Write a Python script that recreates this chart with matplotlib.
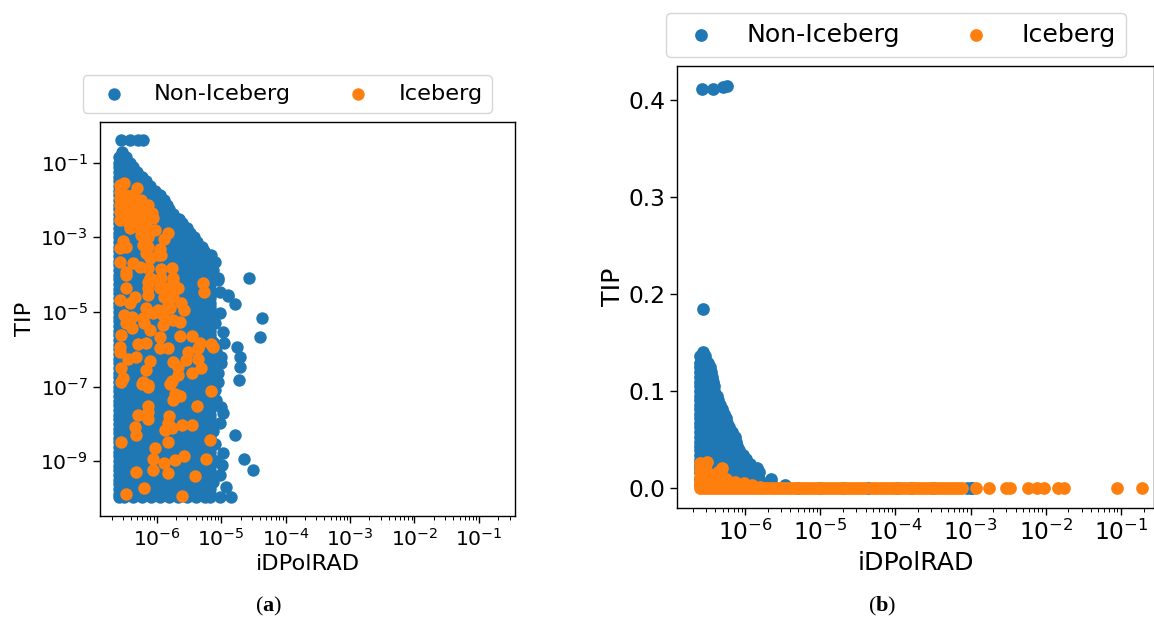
import matplotlib
matplotlib.use("Agg")
import matplotlib.pyplot as plt
import numpy as np
from matplotlib.ticker import LogLocator, NullFormatter, NullLocator

plt.rcParams['mathtext.fontset'] = 'custom'
plt.rcParams['mathtext.bf'] = 'Liberation Serif:bold'
plt.rcParams['mathtext.rm'] = 'Liberation Serif'

labels = ['Non-Iceberg', 'Iceberg']
x_label = 'iDPolRAD'
y_label = 'TIP'
x_tick_exps = [-6, -5, -4, -3, -2, -1]
y_tick_exps_a = [-1, -3, -5, -7, -9]
y_ticks_b = [0.0, 0.1, 0.2, 0.3, 0.4]

# Panel (a): log10 iDPolRAD per row of log10 TIP, read from the dense blue mass
wa = [-6.58, -6.44, -6.30, -6.16, -6.02, -5.88, -5.74, -5.60, -5.46, -5.32, -5.18]
wb = [-6.58, -6.51, -6.37, -6.23, -6.09, -5.95, -5.81, -5.67, -5.53, -5.39, -5.25, -5.17]
blue_a_rows = [
    (-0.39, [-6.56, -6.42, -6.29, -6.22]),
    (-0.72, [-6.54]),
    (-0.85, [-6.58, -6.48]),
    (-1.00, [-6.58, -6.44, -6.42]),
    (-1.125, [-6.58, -6.51, -6.37]),
    (-1.25, [-6.58, -6.51, -6.37, -6.30]),
    (-1.375, [-6.58, -6.44, -6.30, -6.23]),
    (-1.50, [-6.58, -6.44, -6.30, -6.16]),
    (-1.625, [-6.58, -6.51, -6.37, -6.23, -6.10]),
    (-1.75, [-6.58, -6.51, -6.37, -6.23, -6.09, -6.03]),
    (-1.875, [-6.58, -6.44, -6.30, -6.16, -6.02, -5.95]),
    (-2.00, [-6.58, -6.44, -6.30, -6.16, -6.02, -5.88]),
    (-2.125, [-6.58, -6.51, -6.37, -6.23, -6.09, -5.95, -5.84]),
    (-2.25, [-6.58, -6.51, -6.37, -6.23, -6.09, -5.95, -5.81]),
    (-2.375, [-6.58, -6.44, -6.30, -6.16, -6.02, -5.88, -5.74]),
    (-2.50, [-6.58, -6.44, -6.30, -6.16, -6.02, -5.88, -5.74, -5.66]),
    (-2.625, [-6.58, -6.51, -6.37, -6.23, -6.09, -5.95, -5.81, -5.67, -5.60]),
    (-2.75, [-6.58, -6.51, -6.37, -6.23, -6.09, -5.95, -5.81, -5.67, -5.53]),
    (-2.875, [-6.58, -6.44, -6.30, -6.16, -6.02, -5.88, -5.74, -5.60, -5.48]),
    (-3.00, [-6.58, -6.44, -6.30, -6.16, -6.02, -5.88, -5.74, -5.60, -5.46, -5.42]),
    (-3.125, [-6.58, -6.51, -6.37, -6.23, -6.09, -5.95, -5.81, -5.67, -5.53, -5.37]),
    (-3.25, [-6.58, -6.51, -6.37, -6.23, -6.09, -5.95, -5.81, -5.67, -5.53, -5.39, -5.30]),
    (-3.375, [-6.58, -6.44, -6.30, -6.16, -6.02, -5.88, -5.74, -5.60, -5.46, -5.27]),
    (-3.50, [-6.58, -6.44, -6.30, -6.16, -6.02, -5.88, -5.74, -5.60, -5.46, -5.32, -5.22]),
    (-3.625, [-6.58, -6.51, -6.37, -6.23, -6.09, -5.95, -5.81, -5.67, -5.53, -5.39, -5.25, -5.19]),
    (-3.75, [-6.58, -6.51, -6.37, -6.23, -6.09, -5.95, -5.81, -5.67, -5.53, -5.39, -5.25, -5.15]),
    (-3.875, [-6.58, -6.44, -6.30, -6.16, -6.02, -5.88, -5.74, -5.60, -5.46, -5.32, -5.18, -5.13]),
    (-4.00, wa), (-4.125, wb), (-4.25, wb), (-4.375, wa), (-4.50, wa), (-4.625, wb), (-4.75, wb),
    (-4.875, wa), (-5.00, wa), (-5.125, wb), (-5.25, wb), (-5.375, wa), (-5.50, wa), (-5.625, wb),
    (-5.75, wb), (-5.875, wa), (-6.00, wa), (-6.125, wb), (-6.25, wb), (-6.375, wa), (-6.50, wa),
    (-6.625, wb), (-6.75, wb), (-6.875, wa), (-7.00, wa), (-7.125, wb), (-7.25, wb), (-7.375, wa),
    (-7.50, wa), (-7.625, wb), (-7.75, wb), (-7.875, wa), (-8.00, wa), (-8.125, wb), (-8.25, wb),
    (-8.375, wa), (-8.50, wa), (-8.625, wb), (-8.75, wb), (-8.875, wa), (-9.00, wa), (-9.125, wb),
    (-9.25, wb), (-9.375, wa), (-9.50, wa), (-9.625, wb), (-9.75, wb), (-9.875, wa), (-9.95, wb),
]
blue_a_edge_x = [-5.15, -5.10, -5.05, -5.05, -5.02, -4.89, -5.02, -4.97, -4.95, -5.00, -5.00, -5.05,
                 -5.00, -4.97, -5.02, -5.05, -4.97, -4.99, -5.02, -4.92, -5.02, -4.85,
                 -4.57, -4.37, -4.40, -4.76, -4.71, -4.71, -4.73, -4.78, -4.65, -4.50, -4.90, -4.79,
                 -5.10, -5.12, -5.08, -5.12, -5.10, -5.08, -5.12, -5.10, -5.08, -5.12]
blue_a_edge_y = [-3.47, -3.65, -4.10, -4.14, -4.46, -4.55, -5.04, -5.53, -5.84, -6.20, -6.38, -6.65,
                 -7.54, -7.72, -7.99, -6.87, -8.79, -9.10, -9.37, -9.70, -9.95, -9.95,
                 -4.08, -5.16, -5.67, -5.94, -6.21, -6.48, -6.83, -8.30, -8.94, -9.24, -4.57, -4.79,
                 -5.30, -5.80, -6.05, -6.60, -7.10, -7.35, -8.20, -8.55, -9.00, -9.55]

orange_a_x = [-6.57, -6.50, -6.30, -6.57, -6.57, -6.47, -6.37, -6.57, -6.47, -6.34, -6.24, -6.13,
              -6.57, -6.44, -6.32, -6.19, -6.08, -6.57, -6.44, -6.32, -6.19, -6.06, -6.42, -6.29,
              -6.16, -6.03, -5.82, -5.88, -6.24, -6.13, -6.52, -6.57, -6.47, -6.21, -6.13, -5.95,
              -5.98, -5.93, -6.16, -6.11, -6.57, -6.37, -6.47, -6.26, -6.13, -5.93, -5.77, -6.11,
              -5.75, -5.93,
              -6.47, -6.13, -6.00, -5.75, -6.13, -5.95, -5.82, -5.67, -5.28, -5.26, -6.47, -6.57,
              -6.34, -6.42, -6.13, -5.88, -5.75, -5.82, -5.62, -5.57, -6.16, -5.98, -5.80, -6.50,
              -6.39, -6.21, -6.06, -5.90, -5.75, -5.64, -6.47, -6.39, -6.19, -6.11, -5.90, -6.55,
              -5.95, -5.64, -5.45, -6.57, -6.57, -6.29, -6.16, -5.95, -5.82, -5.33, -5.36, -5.16,
              -5.13, -5.51, -5.54, -5.36, -6.44, -6.32, -6.55, -6.11, -6.16, -5.75, -5.67, -5.31,
              -5.46, -5.67, -6.52, -6.21, -5.77, -6.13,
              -6.56, -6.23, -6.14, -5.80, -5.75, -5.72, -5.64, -5.15, -5.37, -6.14, -6.29, -6.13,
              -6.13, -5.81, -5.83, -6.34, -5.87, -5.77, -5.61, -5.46, -6.32, -6.55, -5.82, -5.17,
              -6.03, -6.06, -5.57, -5.72, -5.23, -5.89, -6.06, -6.32, -5.82, -5.41, -6.20, -6.48,
              -5.61]
orange_a_y = [-1.60, -1.55, -1.69, -1.78, -1.96, -1.87, -1.87, -2.13, -2.09, -2.05, -2.00, -2.13,
              -2.31, -2.31, -2.27, -2.27, -2.36, -2.54, -2.58, -2.49, -2.49, -2.49, -2.76, -2.72,
              -2.72, -2.80, -2.88, -3.05, -2.94, -2.98, -3.10, -3.30, -3.25, -3.21, -3.25, -3.32,
              -3.47, -3.47, -3.43, -3.56, -3.65, -3.70, -3.92, -3.79, -3.83, -3.85, -3.81, -4.10,
              -4.10, -4.10,
              -4.01, -4.19, -4.14, -4.19, -4.37, -4.37, -4.37, -4.37, -4.23, -4.46, -4.37, -4.68,
              -4.59, -4.77, -4.55, -4.59, -4.59, -4.81, -4.77, -4.95, -4.90, -4.95, -4.90, -5.08,
              -5.13, -5.17, -5.04, -5.08, -5.22, -5.26, -5.31, -5.44, -5.31, -5.49, -5.35, -5.62,
              -5.66, -5.65, -5.64, -5.93, -6.07, -5.87, -5.82, -5.98, -5.96, -5.84, -5.96, -5.87,
              -5.93, -6.07, -6.29, -6.25, -6.25, -6.22, -6.51, -6.32, -6.56, -6.33, -6.47, -6.51,
              -6.63, -6.69, -6.78, -6.89, -6.85, -6.96,
              -6.87, -6.92, -7.00, -6.93, -7.36, -7.20, -7.25, -7.11, -7.52, -7.52, -7.76, -7.68,
              -7.88, -7.79, -7.99, -8.08, -8.17, -8.10, -8.03, -8.03, -8.30, -8.50, -8.48, -8.43,
              -8.64, -8.93, -8.85, -8.97, -8.95, -9.06, -9.24, -9.30, -9.33, -9.40, -9.71, -9.89,
              -9.94]

# Panel (b)
blue_b_rows = [
    (0.4117, [-6.57, -6.43]), (0.413, [-6.30]), (0.4147, [-6.24]), (0.1845, [-6.56]),
    (0.1408, [-6.56]), (0.136, [-6.60, -6.54]), (0.129, [-6.60, -6.49]),
    (0.125, [-6.60, -6.47]),
    (0.120, [-6.60, -6.52, -6.45]), (0.115, [-6.60, -6.52, -6.44]),
    (0.110, [-6.60, -6.48, -6.43]), (0.105, [-6.60, -6.50, -6.42]),
    (0.100, [-6.60, -6.52, -6.41]), (0.095, [-6.60, -6.52, -6.42, -6.38]),
    (0.091, [-6.60, -6.48, -6.36]), (0.086, [-6.60, -6.48, -6.36, -6.33]),
    (0.082, [-6.60, -6.52, -6.42, -6.31]), (0.077, [-6.60, -6.52, -6.42, -6.30, -6.28]),
    (0.072, [-6.60, -6.48, -6.36, -6.26]), (0.067, [-6.60, -6.48, -6.36, -6.24]),
    (0.063, [-6.60, -6.52, -6.42, -6.30, -6.21]), (0.058, [-6.60, -6.52, -6.42, -6.30, -6.18]),
    (0.053, [-6.60, -6.48, -6.36, -6.24, -6.14]), (0.048, [-6.60, -6.48, -6.36, -6.24, -6.12]),
    (0.044, [-6.60, -6.54, -6.42, -6.30, -6.18, -6.11]), (0.039, [-6.60, -6.54, -6.42, -6.30, -6.18, -6.08]),
    (0.034, [-6.60, -6.48, -6.36, -6.24, -6.12, -6.03]),
    (0.030, [-5.99]), (0.029, [-6.60, -6.48, -6.36, -6.24, -6.12, -6.00]),
    (0.025, [-6.60, -6.54, -6.42, -6.30, -6.18, -6.06, -5.94]),
    (0.021, [-6.60, -6.54, -6.42, -6.30, -6.18, -6.06, -5.94, -5.84]),
    (0.017, [-6.60, -6.48, -6.36, -6.24, -6.12, -6.00, -5.88, -5.81]),
    (0.0095, [-6.60, -6.54, -6.42, -6.30, -6.18, -6.06, -5.94, -5.82, -5.65]),
    (0.003, [-6.60, -6.48, -6.36, -6.24, -6.12, -6.00, -5.88, -5.76, -5.64, -5.47]),
    (0.0, [-5.30, -5.00, -4.70, -4.36, -3.98, -3.79, -3.50, -3.05, -3.00, -2.98]),
]
orange_b_band_x = [-6.60, -6.56, -6.52, -6.48, -6.44, -6.40, -6.36, -6.32, -6.28, -6.24, -6.20, -6.16,
                   -6.12, -6.08, -6.04, -6.00, -5.96, -5.92, -5.88, -5.84, -5.80, -5.76, -5.72, -5.68,
                   -5.64, -5.60, -5.56, -5.52, -5.48, -5.44, -5.40, -5.36, -5.32, -5.28, -5.24, -5.20,
                   -5.16, -5.12, -5.08, -5.04, -5.00, -4.96, -4.92, -4.88, -4.84, -4.80, -4.76, -4.72,
                   -4.68, -4.64, -4.60, -4.56, -4.52, -4.48, -4.44, -4.40, -4.32, -4.28, -4.24, -4.20,
                   -4.16, -4.12, -4.08, -4.04, -4.00, -3.96, -3.92, -3.88, -3.84, -3.80, -3.76, -3.72,
                   -3.68, -3.64, -3.60, -3.56, -3.52, -3.48, -3.44, -3.40, -3.36, -3.32, -3.28, -3.24,
                   -3.20, -3.16, -3.11, -2.93, -2.76, -2.53, -2.48, -2.23, -2.12, -2.03, -1.84, -1.76,
                   -1.05, -0.72]
orange_b_x = [-6.60, -6.51, -6.60, -6.53, -6.60, -6.49, -6.60, -6.50, -6.42, -6.36, -6.31, -6.29,
              -6.36, -6.22, -6.30, -6.13, -6.02, -5.91, -5.80, -6.42, -6.55, -6.45, -6.25, -6.60,
              -6.53, -6.35, -6.45]
orange_b_y = [0.0264, 0.0275, 0.0189, 0.0206, 0.012, 0.0154, 0.006, 0.007, 0.012, 0.0172, 0.0206, 0.012,
              0.008, 0.0068, 0.005, 0.0068, 0.005, 0.0034, 0.0017, 0.005, 0.015, 0.009, 0.010, 0.003,
              0.003, 0.003, 0.014]

W, H = 1154, 622
BLUE, ORANGE = '#1f77b4', '#ff7f0e'


def rows_to_xy(rows):
    xs, ys = [], []
    for y, row in rows:
        xs.extend(row)
        ys.extend([y] * len(row))
    return np.array(xs, float), np.array(ys, float)


fig = plt.figure(figsize=(W / 100, H / 100), dpi=100)


def make_axes(l, r, t, b, tick, lab, xpad, ypad):
    ax = fig.add_axes([l / W, 1 - b / H, (r - l) / W, (b - t) / H])
    ax.tick_params(which='major', labelsize=tick, length=5, width=1.0)
    ax.tick_params(which='minor', length=3, width=0.7)
    for s in ax.spines.values():
        s.set_linewidth(1.0)
    ax.set_xlabel(x_label, fontsize=lab, labelpad=xpad)
    ax.set_ylabel(y_label, fontsize=lab, labelpad=ypad)
    ax.set_xscale('log')
    ax.set_xticks([10.0 ** e for e in x_tick_exps])
    ax.xaxis.set_minor_locator(LogLocator(base=10, subs=(2, 3, 4, 5, 6, 7, 8, 9), numticks=30))
    ax.xaxis.set_minor_formatter(NullFormatter())
    return ax


# ---- panel a
ax = make_axes(100, 515, 122, 516, 14.6, 16.2, 2.8, 3.5)
bx, by = rows_to_xy(blue_a_rows)
bx = np.concatenate([bx, blue_a_edge_x])
by = np.concatenate([by, blue_a_edge_y])
ax.scatter(10.0 ** bx, 10.0 ** by, s=80, linewidths=0, color=BLUE, label=labels[0])
ax.scatter(10.0 ** np.array(orange_a_x), 10.0 ** np.array(orange_a_y), s=80, linewidths=0, color=ORANGE, label=labels[1])
ax.set_yscale('log')
ax.set_yticks([10.0 ** e for e in y_tick_exps_a])
ax.yaxis.set_minor_locator(NullLocator())
ax.set_xlim(10 ** -6.88, 10 ** -0.44)
ax.set_ylim(10 ** -10.47, 10 ** 0.09)
ax.legend(ncol=2, loc='lower center', bbox_to_anchor=(0.451, 1.023), borderaxespad=0, fontsize=16.1)

# ---- panel b
ax = make_axes(677, 1154, 66, 508, 16.8, 18.2, 4.0, 2.0)
bx, by = rows_to_xy(blue_b_rows)
ax.scatter(10.0 ** bx, by, s=84, linewidths=0, color=BLUE, label=labels[0])
ox = np.concatenate([orange_b_band_x, orange_b_x])
oy = np.concatenate([np.zeros(len(orange_b_band_x)), orange_b_y])
ax.scatter(10.0 ** ox, oy, s=84, linewidths=0, color=ORANGE, label=labels[1])
ax.set_yticks(y_ticks_b)
ax.set_xlim(10 ** -6.907, 10 ** -0.56)
ax.set_ylim(-0.0203, 0.435)
ax.legend(ncol=2, loc='lower center', bbox_to_anchor=(0.459, 1.020), borderaxespad=0, fontsize=18.2)

fig.text(269 / W, 1 - 606 / H, r'($\mathbf{a}$)', ha='center', va='center', fontsize=16, family='Liberation Serif')
fig.text(882 / W, 1 - 606 / H, r'($\mathbf{b}$)', ha='center', va='center', fontsize=16, family='Liberation Serif')

fig.savefig('out.png', dpi=100)
